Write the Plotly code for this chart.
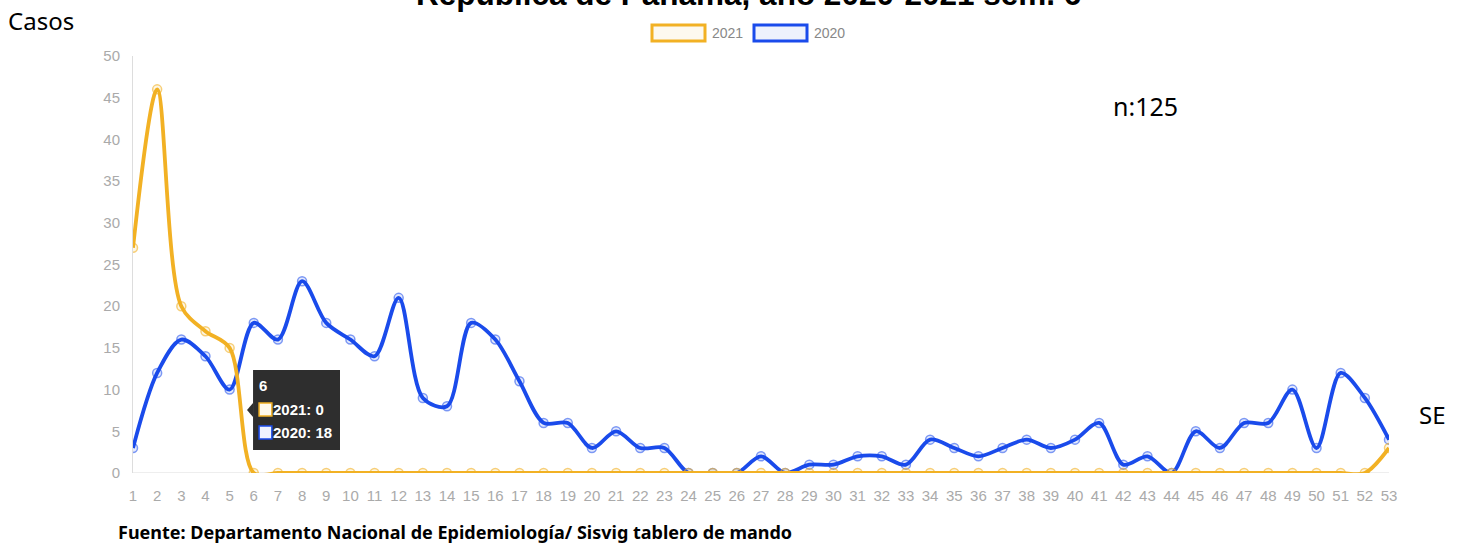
import plotly.graph_objects as go

weeks = list(range(1, 54))
cases_2021 = [27, 46, 20, 17, 15] + [0] * 47 + [3]
cases_2020 = [3, 12, 16, 14, 10, 18, 16, 23, 18, 16, 14, 21, 9, 8, 18, 16, 11, 6, 6, 3,
              5, 3, 3, 0, 0, 0, 2, 0, 1, 1, 2, 2, 1, 4, 3, 2, 3, 4, 3, 4,
              6, 1, 2, 0, 5, 3, 6, 6, 10, 3, 12, 9, 4]
y_ticks = list(range(0, 55, 5))

ORANGE = '#F2B124'
BLUE = '#1A4BEB'
TICK_GREY = '#AAAAAA'
NARROW = 'Liberation Sans Narrow, Arial'
tip_week = 6

fig = go.Figure()

fig.add_trace(go.Scatter(
    x=weeks, y=cases_2020, name='2020', mode='lines+markers',
    line=dict(color=BLUE, width=3.8, shape='spline', smoothing=0.9),
    marker=dict(size=9, color='rgba(26,75,235,0.12)',
                line=dict(color='rgba(26,75,235,0.55)', width=1.5))
))
fig.add_trace(go.Scatter(
    x=weeks, y=cases_2021, name='2021', mode='lines+markers',
    line=dict(color=ORANGE, width=3.8, shape='spline', smoothing=0.9),
    marker=dict(size=9, color='rgba(242,177,36,0.12)',
                line=dict(color='rgba(242,177,36,0.6)', width=1.5))
))

# tooltip box at week 6
fig.add_shape(type='rect', xref='x', yref='y',
              x0=tip_week - 0.03, x1=tip_week + 3.57, y0=2.76, y1=12.35,
              fillcolor='#2E2E2E', line=dict(width=0), layer='above')
fig.add_shape(type='path', xref='x', yref='y',
              path=f'M {tip_week - 0.28} 7.55 L {tip_week - 0.03} 8.39 L {tip_week - 0.03} 6.71 Z',
              fillcolor='#2E2E2E', line=dict(width=0), layer='above')
fig.add_shape(type='rect', xref='x', yref='y',
              x0=tip_week + 0.22, x1=tip_week + 0.75, y0=6.83, y1=8.39,
              fillcolor='#FFFAEE', line=dict(color=ORANGE, width=1.5), layer='above')
fig.add_shape(type='rect', xref='x', yref='y',
              x0=tip_week + 0.22, x1=tip_week + 0.75, y0=4.08, y1=5.64,
              fillcolor='#EEF3FF', line=dict(color=BLUE, width=1.5), layer='above')
fig.add_annotation(x=tip_week + 0.15, y=10.55, xref='x', yref='y', text=f'<b>{tip_week}</b>',
                   showarrow=False, xanchor='left', font=dict(color='white', size=15, family=NARROW))
fig.add_annotation(x=tip_week + 0.72, y=7.61, xref='x', yref='y',
                   text=f'<b>2021: {cases_2021[tip_week - 1]}</b>',
                   showarrow=False, xanchor='left', font=dict(color='white', size=15, family=NARROW))
fig.add_annotation(x=tip_week + 0.72, y=4.86, xref='x', yref='y',
                   text=f'<b>2020: {cases_2020[tip_week - 1]}</b>',
                   showarrow=False, xanchor='left', font=dict(color='white', size=15, family=NARROW))

# custom legend
def px_x(p):
    return (p - 133) / 1256

def px_y(p):
    return (473 - p) / 417

for x0, x1, col, fill, label in [(652, 705, ORANGE, '#FDF9EF', '2021'),
                                 (754, 807, BLUE, '#EEF2FC', '2020')]:
    fig.add_shape(type='rect', xref='paper', yref='paper',
                  x0=px_x(x0), x1=px_x(x1), y0=px_y(41), y1=px_y(25),
                  fillcolor=fill, line=dict(color=col, width=3))
    fig.add_annotation(x=px_x(x1 + 5), y=px_y(33), xref='paper', yref='paper', text=label,
                       showarrow=False, xanchor='left', yanchor='middle',
                       font=dict(color='#888888', size=14, family=NARROW))

# texts around the chart (title is cut at the top of the page, as in the source)
fig.add_annotation(x=px_x(748), y=px_y(14), xref='paper', yref='paper',
                   text='<b>República de Panamá, año 2020-2021 sem. 6</b>',
                   showarrow=False, xanchor='center', yanchor='bottom',
                   font=dict(color='black', size=31.5, family='Arial'))
fig.add_annotation(x=px_x(6), y=px_y(20), xref='paper', yref='paper', text='Casos',
                   showarrow=False, xanchor='left', yanchor='middle',
                   font=dict(color='black', size=24, family='Noto Sans'))
fig.add_annotation(x=px_x(1111), y=px_y(106), xref='paper', yref='paper', text='n:125',
                   showarrow=False, xanchor='left', yanchor='middle',
                   font=dict(color='black', size=25, family='Noto Sans'))
fig.add_annotation(x=px_x(1417), y=px_y(414), xref='paper', yref='paper', text='SE',
                   showarrow=False, xanchor='left', yanchor='middle',
                   font=dict(color='black', size=24, family='Noto Sans'))
fig.add_annotation(x=px_x(116), y=px_y(532), xref='paper', yref='paper',
                   text='<b>Fuente: Departamento Nacional de Epidemiología/ Sisvig tablero de mando</b>',
                   showarrow=False, xanchor='left', yanchor='middle',
                   font=dict(color='black', size=18, family='Noto Sans'))

fig.update_layout(
    width=1461, height=544,
    margin=dict(l=133, r=72, t=56, b=71),
    plot_bgcolor='white', paper_bgcolor='white',
    showlegend=False,
    xaxis=dict(range=[1, 53], tickmode='array', tickvals=weeks, ticktext=[str(w) for w in weeks],
               showgrid=False, zeroline=False, showline=False,
               tickfont=dict(color=TICK_GREY, size=15, family=NARROW),
               ticks='', ticklen=0, ticklabelstandoff=12),
    yaxis=dict(range=[0, 50], tickvals=y_ticks, showgrid=False, zeroline=False,
               showline=True, linecolor='#DDDDDD', linewidth=1,
               tickfont=dict(color=TICK_GREY, size=15, family=NARROW),
               ticks='', ticklen=0, ticklabelstandoff=9),
)
fig.add_shape(type='line', xref='paper', yref='y', x0=0, x1=1, y0=0, y1=0,
              line=dict(color='#DDDDDD', width=1), layer='below')

fig.write_html("out.html", config={'displayModeBar': False},
               post_script="document.body.style.margin='0';document.body.style.overflow='hidden';")
